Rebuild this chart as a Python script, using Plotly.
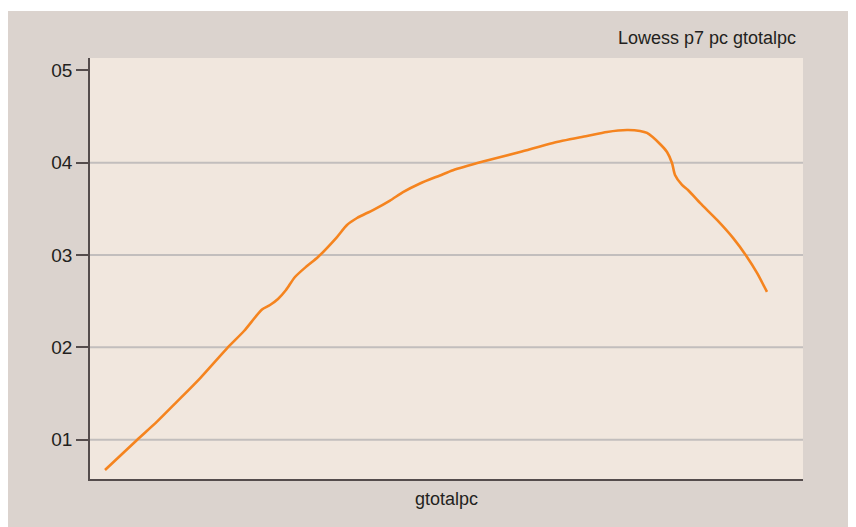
import plotly.graph_objects as go

# Data (gtotalpc in arbitrary units, lowess-smoothed p7 pc)
gtotalpc = [15, 47, 67, 87, 110, 137, 154, 172, 180, 188, 196, 205, 217, 228,
            247, 257, 267, 283, 300, 313, 330, 350, 363, 393, 430, 463, 497, 517,
            537, 550, 557, 570, 577, 582, 585, 592, 598, 610, 627, 643, 657, 667, 677]
lowess_p7 = [0.672, 0.997, 1.195, 1.412, 1.665, 1.990, 2.177, 2.410, 2.459, 2.524,
             2.621, 2.762, 2.881, 2.979, 3.195, 3.325, 3.401, 3.487, 3.590, 3.681,
             3.775, 3.862, 3.918, 4.012, 4.116, 4.214, 4.289, 4.333, 4.354, 4.344,
             4.322, 4.203, 4.116, 3.997, 3.867, 3.759, 3.704, 3.564, 3.380, 3.185,
             2.979, 2.806, 2.600]

y_tickvals = [1, 2, 3, 4, 5]
y_ticktext = ["01", "02", "03", "04", "05"]
grid_vals = [1, 2, 3, 4]

title_text = "Lowess p7 pc gtotalpc"
x_title = "gtotalpc"

OUTER = "#dbd3ce"
PLOT = "#f1e7de"
ORANGE = "#f5841f"
GRID = "#c2bebd"
AXIS = "#544c4c"
TEXT = "#231f20"

fig = go.Figure()
fig.add_trace(go.Scatter(
    x=gtotalpc, y=lowess_p7, mode="lines",
    line=dict(color=ORANGE, width=2.6, shape="spline", smoothing=0.7),
    hoverinfo="skip", showlegend=False,
))

shapes = []
# thin white band at the very top of the page
shapes.append(dict(type="rect", xref="paper", yref="paper",
                   x0=-0.2, x1=1.2, y0=(471-3)/421, y1=1.2,
                   fillcolor="white", line=dict(width=0), layer="below"))
for g in grid_vals:
    shapes.append(dict(type="line", xref="paper", yref="y", x0=0, x1=1, y0=g, y1=g,
                       line=dict(color=GRID, width=2), layer="below"))

fig.update_layout(
    width=856, height=527,
    margin=dict(l=82, r=61, t=50, b=56),
    paper_bgcolor=OUTER, plot_bgcolor=PLOT,
    font=dict(family="Liberation Sans, Arial, sans-serif", color=TEXT, size=18),
    shapes=shapes,
    xaxis=dict(range=[0, 713], showticklabels=False, ticks="", showgrid=False,
               zeroline=False, showline=True, linecolor=AXIS, linewidth=2,
               title=dict(text=x_title, standoff=12, font=dict(size=18))),
    yaxis=dict(range=[0.574, 5.134], tickvals=y_tickvals, ticktext=y_ticktext,
               ticks="outside", ticklen=12, tickwidth=1.5, tickcolor=AXIS,
               showgrid=False, zeroline=False, showline=True, linecolor=AXIS,
               linewidth=1.5, tickfont=dict(size=19)),
    annotations=[dict(text=title_text, xref="paper", yref="paper",
                      x=(798-90)/713, y=(479-38)/421, xanchor="right",
                      yanchor="middle", showarrow=False, font=dict(size=18))],
)

fig.write_html("out.html")
